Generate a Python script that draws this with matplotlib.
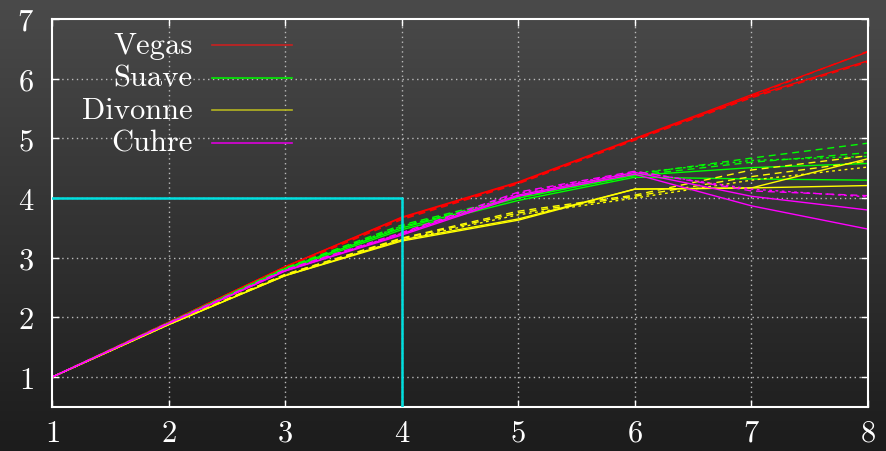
import numpy as np
import matplotlib
matplotlib.use("Agg")
import matplotlib.pyplot as plt

x = [1, 2, 3, 4, 5, 6, 7, 8]

# Vegas (red)
vegas_solid_a = [1, 1.92, 2.85, 3.68, 4.27, 5.00, 5.73, 6.45]
vegas_solid_b = [1, 1.92, 2.85, 3.67, 4.26, 4.99, 5.70, 6.30]
vegas_dash_a = [1, 1.92, 2.84, 3.66, 4.25, 4.98, 5.71, 6.46]
vegas_dash_b = [1, 1.91, 2.83, 3.64, 4.24, 4.97, 5.68, 6.28]

# Suave (green)
suave_solid_a = [1, 1.91, 2.82, 3.50, 4.00, 4.38, 4.51, 4.58]
suave_solid_b = [1, 1.90, 2.80, 3.47, 3.96, 4.35, 4.32, 4.30]
suave_dash_a = [1, 1.91, 2.83, 3.55, 4.03, 4.40, 4.67, 4.92]
suave_dash_b = [1, 1.91, 2.82, 3.52, 4.01, 4.38, 4.60, 4.76]
suave_dot = [1, 1.91, 2.82, 3.53, 4.02, 4.42, 4.63, 4.70]

# Divonne (yellow)
divonne_solid_a = [1, 1.88, 2.70, 3.28, 3.63, 4.15, 4.17, 4.66]
divonne_solid_b = [1, 1.88, 2.70, 3.30, 3.65, 4.15, 4.17, 4.21]
divonne_dash_a = [1, 1.89, 2.72, 3.33, 3.78, 4.05, 4.47, 4.71]
divonne_dash_b = [1, 1.89, 2.72, 3.32, 3.75, 4.03, 4.36, 4.62]
divonne_dot = [1, 1.88, 2.71, 3.30, 3.72, 4.00, 4.30, 4.52]

# Cuhre (magenta)
cuhre_solid_a = [1, 1.90, 2.78, 3.40, 4.05, 4.43, 4.03, 3.80]
cuhre_solid_b = [1, 1.90, 2.78, 3.38, 4.03, 4.40, 3.87, 3.48]
cuhre_dash = [1, 1.91, 2.80, 3.42, 4.10, 4.45, 4.12, 4.04]
cuhre_dot = [1, 1.90, 2.79, 3.41, 4.08, 4.44, 4.15, 4.02]

labels = ["Vegas", "Suave", "Divonne", "Cuhre"]
colors = ["#ff0000", "#00ff00", "#ffff00", "#ff00ff"]
legend_colors = ["#c82020", "#00ee00", "#b4b420", "#dd00dd"]

# reference box
box_x = [1, 4, 4]
box_y = [4, 4, 0.5]

plt.rcParams["font.family"] = ["cmr10", "DejaVu Serif"]
plt.rcParams["axes.formatter.use_mathtext"] = True

fig = plt.figure(figsize=(8.86, 4.52), dpi=100)

# background gradient
bg = fig.add_axes([0, 0, 1, 1], zorder=-10)
grad = np.linspace(0, 1, 256).reshape(-1, 1)
top = np.array([0x4a, 0x4a, 0x4a]) / 255
bot = np.array([0x1c, 0x1c, 0x1c]) / 255
img = top + (bot - top) * grad[:, :, None]
bg.imshow(img, aspect="auto", extent=[0, 1, 0, 1])
bg.axis("off")

ax = fig.add_axes([52 / 886, 44 / 452, 816 / 886, 388 / 452])
ax.set_facecolor("none")

lw = 1.0
groups = [
    (vegas_solid_a, vegas_solid_b, vegas_dash_a, vegas_dash_b, None),
    (suave_solid_a, suave_solid_b, suave_dash_a, suave_dash_b, suave_dot),
    (divonne_solid_a, divonne_solid_b, divonne_dash_a, divonne_dash_b, divonne_dot),
    (cuhre_solid_a, cuhre_solid_b, cuhre_dash, None, cuhre_dot),
]
for (sa, sb, da, db, dt), c in zip(groups, colors):
    ax.plot(x, sa, color=c, lw=lw)
    ax.plot(x, sb, color=c, lw=lw)
    ax.plot(x, da, color=c, lw=lw, dashes=(5, 3.5))
    if db is not None:
        ax.plot(x, db, color=c, lw=lw, dashes=(5, 3.5))
    if dt is not None:
        ax.plot(x, dt, color=c, lw=lw, dashes=(2, 2.5))

ax.plot(box_x, box_y, color="#00e0e0", lw=1.8, zorder=5)

ax.set_xlim(1, 8)
ax.set_ylim(0.5, 7)
ax.set_xticks(range(1, 9))
ax.set_yticks(range(1, 8))

for v in range(2, 8):
    ax.axvline(v, color="#bbbbbb", lw=1.0, ls=(0, (1, 2.5)), zorder=0)
for v in range(1, 7):
    ax.axhline(v, color="#bbbbbb", lw=1.0, ls=(0, (1, 2.5)), zorder=0)

for s in ax.spines.values():
    s.set_color("white")
    s.set_linewidth(1.5)
ax.tick_params(which="both", direction="in", colors="white", length=5, width=1,
               top=True, right=True, labelsize=22)
ax.tick_params(axis="y", pad=13)
ax.tick_params(axis="x", pad=9)

# legend
leg_y = [0.933, 0.849, 0.765, 0.681]
for lab, c, yy in zip(labels, legend_colors, leg_y):
    ax.text(0.1725, yy - 0.02, lab, transform=ax.transAxes, ha="right",
            va="baseline", color="white", fontsize=22)
    ax.plot([0.196, 0.294], [yy, yy], transform=ax.transAxes, color=c, lw=1.2)

fig.savefig("out.png", dpi=100)
